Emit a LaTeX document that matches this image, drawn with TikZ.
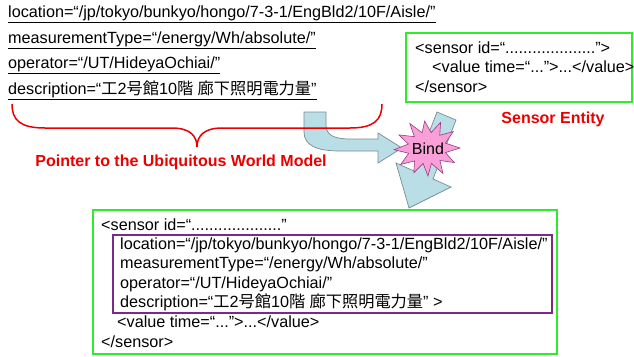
\documentclass[tikz,border=0pt]{standalone}
\usepackage{fontspec}
\setmainfont{Liberation Sans}
\newfontfamily\jpf[Scale=1.0]{Noto Sans CJK JP}
\definecolor{boxgreen}{RGB}{45,235,45}
\definecolor{boxpurple}{RGB}{125,40,140}
\definecolor{lblred}{RGB}{235,0,0}
\definecolor{arrblue}{RGB}{185,222,230}
\definecolor{arredge}{RGB}{120,140,150}
\definecolor{starpink}{RGB}{248,160,215}
\definecolor{staredge}{RGB}{150,60,130}
\newcommand{\jpdesc}{{\jpf 工}2{\jpf 号館}10{\jpf 階} {\jpf 廊下照明電力量}}
\begin{document}
\begin{tikzpicture}[x=1pt,y=-1pt,
  txt/.style={anchor=base west,inner sep=0pt,font=\fontsize{16.2}{19}\selectfont},
  lbl/.style={inner sep=0pt,text=lblred,font=\fontsize{16}{19}\selectfont\bfseries},
  gbox/.style={draw=boxgreen,line width=2pt},
  pbox/.style={draw=boxpurple,line width=1.6pt},
  bluearrow/.style={fill=arrblue,draw=arredge,line width=0.7pt},
  brace/.style={draw=lblred,line width=1.5pt}]
\useasboundingbox (0,0) rectangle (634,356);
% top attribute lines
\node[txt] (l1) at (8,17) {\underline{location=“/jp/tokyo/bunkyo/hongo/7-3-1/EngBld2/10F/Aisle/”}};
\node[txt] (l2) at (8,43) {\underline{measurementType=“/energy/Wh/absolute/”}};
\node[txt] (l3) at (8,68) {\underline{operator=“/UT/HideyaOchiai/”}};
\node[txt] (l4) at (8,94) {\underline{description=“\jpdesc”}};
% sensor entity box
\draw[gbox] (406,33) rectangle (632,102);
\node[txt] (s1) at (415,53) {<sensor id=“....................”>};
\node[txt] (s2) at (432,72) {<value time=“...”>...</value>};
\node[txt] (s3) at (415,92) {</sensor>};
\node[lbl] (se) at (553,119) {Sensor Entity};
% second arrow (behind star)
\filldraw[bluearrow] (437,112) -- (456,120) -- (433,179) -- (451,187) -- (409,208) -- (396,163) -- (414,171) -- cycle;
% first curved arrow
\filldraw[bluearrow] (304,112) -- (326,112) -- (326,125) .. controls (326,135) and (334,139) .. (350,139) -- (378,139) -- (378,133) -- (402,148) -- (378,163) -- (378,151) -- (340,151) .. controls (316,151) and (304,145) .. (304,132) -- cycle;
% brace
\draw[brace] (12,104) .. controls (12,120) and (20,128) .. (45,128) -- (172,128) .. controls (190,128) and (197,136) .. (197,147) .. controls (197,136) and (204,128) .. (222,128) -- (350,128) .. controls (374,128) and (382,120) .. (382,104);
\node[lbl] (ptr) at (181,162) {Pointer to the Ubiquitous World Model};
% star
\begin{scope}[shift={(427,148)}]
\filldraw[fill=starpink,draw=staredge,line width=0.6pt]
  (0:33pt) -- (15:19pt) -- (32:31pt) -- (45:18pt) -- (62:29pt) -- (75:16pt) -- (95:27pt) -- (108:16pt) -- (125:30pt) -- (138:17pt) -- (155:31pt) -- (168:19pt) -- (183:33pt) -- (196:19pt) -- (212:31pt) -- (226:18pt) -- (242:28pt) -- (256:16pt) -- (272:28pt) -- (286:16pt) -- (302:30pt) -- (316:18pt) -- (332:31pt) -- (346:19pt) -- cycle;
\end{scope}
\node[inner sep=0pt,font=\fontsize{16}{19}\selectfont] (bind) at (428,149) {Bind};
% bottom box
\draw[gbox] (93,210) rectangle (557,354);
\draw[pbox] (113,235) rectangle (552,313);
\node[txt] (b1) at (101,230) {<sensor id=“....................”};
\node[txt] (b2) at (120,249) {location=“/jp/tokyo/bunkyo/hongo/7-3-1/EngBld2/10F/Aisle/”};
\node[txt] (b3) at (120,268) {measurementType=“/energy/Wh/absolute/”};
\node[txt] (b4) at (120,288) {operator=“/UT/HideyaOchiai/”};
\node[txt] (b5) at (120,307) {description=“\jpdesc” >};
\node[txt] (b6) at (117,327) {<value time=“...”>...</value>};
\node[txt] (b7) at (101,347) {</sensor>};
\end{tikzpicture}
\end{document}
